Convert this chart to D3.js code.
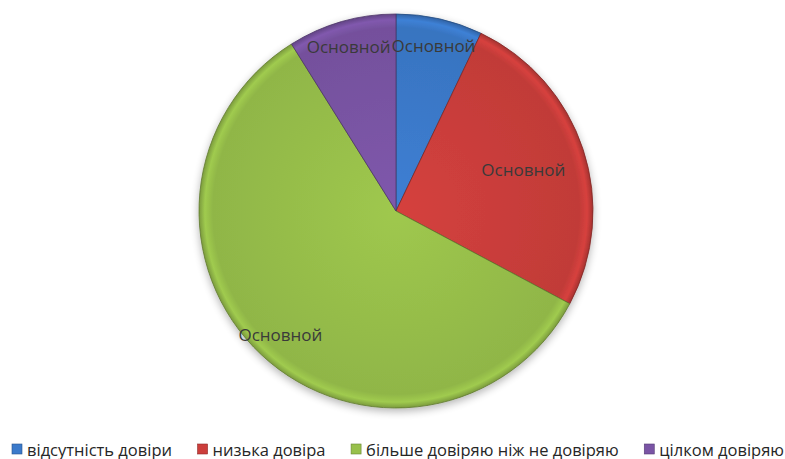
<!DOCTYPE html>
<html>
<head>
<meta charset="utf-8">
<script src="https://cdn.jsdelivr.net/npm/d3@7"></script>
<style>
  body { margin: 0; background: #fff; }
  svg { display: block; }
</style>
</head>
<body>
<svg id="chart" width="785" height="459"></svg>
<script>
const categories = ['відсутність довіри', 'низька довіра', 'більше довіряю ніж не довіряю', 'цілком довіряю']
const values = [7.1, 25.7, 58.3, 8.9]
const labels = ['Основной', 'Основной', 'Основной', 'Основной']
const colors = ['#3b7acb', '#cc3e3b', '#98c04b', '#7a54a5']

const width = 785
const height = 459
const cx = 396
const cy = 211
const radius = 197
// где ставить подписи (доля радиуса), как в исходнике
const labelPos = [0.86, 0.68, 0.86, 0.87]

const svg = d3.select('#chart')
const defs = svg.append('defs')

colors.forEach((c, i) => {
  const base = d3.color(c)
  const g = defs.append('radialGradient')
    .attr('id', `grad${i}`)
    .attr('gradientUnits', 'userSpaceOnUse')
    .attr('cx', 0).attr('cy', 0).attr('r', radius)
  g.append('stop').attr('offset', 0).attr('stop-color', base.brighter(0.12))
  g.append('stop').attr('offset', 0.93).attr('stop-color', base.darker(0.15))
  g.append('stop').attr('offset', 0.97).attr('stop-color', base.brighter(0.15))
  g.append('stop').attr('offset', 1).attr('stop-color', base.darker(0.6))
})

const shadow = defs.append('filter').attr('id', 'shadow')
  .attr('x', '-20%').attr('y', '-20%').attr('width', '140%').attr('height', '140%')
shadow.append('feGaussianBlur').attr('in', 'SourceAlpha').attr('stdDeviation', 4)
shadow.append('feOffset').attr('dy', 3).attr('result', 'off')
shadow.append('feComponentTransfer').attr('result', 'blur')
  .append('feFuncA').attr('type', 'linear').attr('slope', 0.3)
const merge = shadow.append('feMerge')
merge.append('feMergeNode').attr('in', 'blur')
merge.append('feMergeNode').attr('in', 'SourceGraphic')

const pie = d3.pie().sort(null).value(d => d)
const arcs = pie(values)
const arc = d3.arc().innerRadius(0).outerRadius(radius)

const board = svg.append('g').attr('transform', `translate(${cx},${cy})`)

board.append('g')
  .attr('filter', 'url(#shadow)')
  .selectAll('path')
  .data(arcs)
  .join('path')
  .attr('d', arc)
  .attr('fill', (d, i) => `url(#grad${i})`)
  .attr('stroke', (d, i) => d3.color(colors[i]).darker(1.3))
  .attr('stroke-width', 0.8)
  .attr('stroke-linejoin', 'round')

board.append('g')
  .selectAll('text')
  .data(arcs)
  .join('text')
  .attr('transform', (d, i) => {
    const r = radius * labelPos[i]
    const a = (d.startAngle + d.endAngle) / 2
    return `translate(${Math.sin(a) * r},${-Math.cos(a) * r})`
  })
  .attr('text-anchor', 'middle')
  .attr('dominant-baseline', 'central')
  .attr('font-family', '"Open Sans", sans-serif')
  .attr('font-size', 17)
  .attr('fill', '#3a3a3a')
  .text((d, i) => labels[i])

// легенда
const legend = svg.append('g').attr('transform', 'translate(0,449)')
const items = legend.selectAll('g')
  .data(categories)
  .join('g')
items.append('rect')
  .attr('width', 10).attr('height', 10).attr('y', -5)
  .attr('fill', (d, i) => colors[i])
  .attr('stroke', (d, i) => d3.color(colors[i]).darker(1))
  .attr('stroke-width', 0.6)
items.append('text')
  .attr('x', 15)
  .attr('dominant-baseline', 'central')
  .attr('font-family', '"Open Sans", sans-serif')
  .attr('font-size', 16.5)
  .attr('fill', '#262626')
  .text(d => d)

const widths = items.nodes().map(n => 15 + n.querySelector('text').getComputedTextLength())
const left = 12
const right = 784
const gap = (right - left - d3.sum(widths)) / (categories.length - 1)
let xPos = left
items.each(function (d, i) {
  d3.select(this).attr('transform', `translate(${xPos},0)`)
  xPos += widths[i] + gap
})
</script>
</body>
</html>
